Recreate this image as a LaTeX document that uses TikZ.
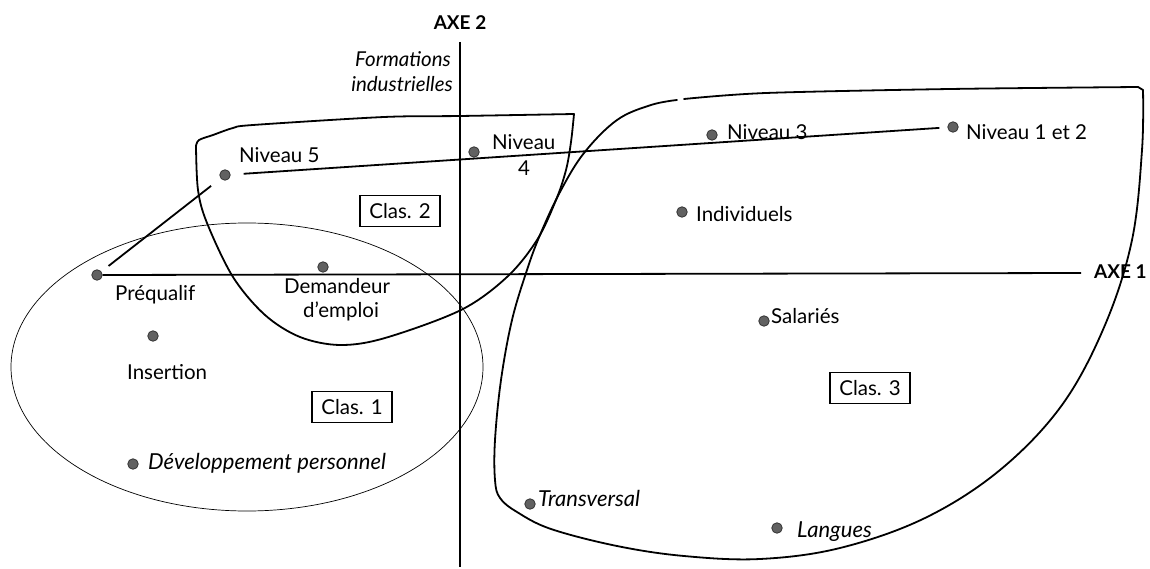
\documentclass[tikz,border=0pt]{standalone}
\usepackage{fontspec}
\setmainfont{Lato}
\begin{document}
\begin{tikzpicture}[x=1pt,y=-1pt,
  lbl/.style={font=\fontsize{20.5}{25}\selectfont, inner sep=0pt},
  ilbl/.style={lbl, font=\fontsize{22}{26}\selectfont\itshape},
  flbl/.style={lbl, font=\fontsize{20.5}{25}\selectfont\itshape},
  axlbl/.style={font=\fontsize{19}{23}\selectfont\bfseries, inner sep=0pt},
  pt/.style={circle, fill=black!62, draw=black!80, line width=0.8pt, minimum size=10.5pt, inner sep=0pt},
  clasbox/.style={draw, line width=1.3pt, font=\fontsize{20.5}{25}\selectfont, minimum width=80pt, minimum height=31pt, inner sep=0pt},
  hull/.style={line width=1.8pt, line join=round, line cap=round},
  link/.style={line width=1.8pt},
  axisline/.style={line width=1.8pt}]
\fill[white] (0,0) rectangle (1150,569);
\useasboundingbox (0,0) rectangle (1150,569);

% class 1: thin ellipse
\draw[line width=0.7pt] (247,367) ellipse [x radius=236pt, y radius=144pt];

% class 2 hull
\draw[hull] plot[smooth, tension=0.5] coordinates {(574,114) (460,116) (384,117) (253,125) (233,128) (213,135) (199,140) (196,146)};
\draw[hull] plot[smooth, tension=0.55] coordinates {(196,146) (198,190) (207,223) (233,277) (265,315) (300,337) (340,345) (385,338) (461,310) (507,277) (537,240) (556,200) (566,170) (571,142) (574,114)};

% class 3 hull (open at the top left)
\draw[hull] plot[smooth, tension=0.5] coordinates {(684,99) (766,93) (950,89) (1138,87)};
\draw[hull] (1138,87) -- (1143,90);
\draw[hull] plot[smooth, tension=0.6] coordinates {(1143,90) (1142,150) (1132,240) (1105,325) (1062,405) (1000,470) (925,518) (840,548) (760,559) (684,556) (617,546) (551,529) (517,512) (500,498) (495,480) (495,440) (501,380) (512,320) (527,270) (540,235) (560,192) (584,153) (617,120) (651,105) (677,100)};

% points
\node[pt] (preq) at (97,275) {};
\node[pt] (niv5) at (225,175) {};
\node[pt] (niv4) at (474,152) {};
\node[pt] (niv3) at (712,135) {};
\node[pt] (niv12) at (953,127) {};
\node[pt] (indiv) at (682,212) {};
\node[pt] (demand) at (323,267) {};
\node[pt] (salar) at (764,321) {};
\node[pt] (insert) at (153,336) {};
\node[pt] (devel) at (133,464) {};
\node[pt] (transv) at (530,504) {};
\node[pt] (lang) at (777,528) {};

% axes
\coordinate (ax1end) at (1081,273);
\coordinate (ax2top) at (460,42);
\coordinate (ax2bot) at (460,567);
\draw[axisline] (preq.east) -- (ax1end);
\draw[axisline] (ax2top) -- (ax2bot);
\node[axlbl, anchor=base west] (axe1) at (1094,278) {AXE 1};
\node[axlbl, anchor=base] (axe2) at (460,30) {AXE 2};
\node[flbl, anchor=base east] (form1) at (451,67) {Formations};
\node[flbl, anchor=base east] (form2) at (453,92) {industrielles};

% links between levels
\draw[link, shorten <=9pt, shorten >=12pt] (preq) -- (niv5);
\draw[link, shorten <=13pt, shorten >=8pt] (niv5) -- (niv12);

% labels
\node[lbl, anchor=base west] (lniv5) at (239,163) {Niveau 5};
\node[lbl, anchor=base west] (lniv4a) at (492,150) {Niveau};
\node[lbl, anchor=base] (lniv4b) at (524,176) {4};
\node[lbl, anchor=base west] (lniv3) at (727,140) {Niveau 3};
\node[lbl, anchor=base west] (lniv12) at (966,140) {Niveau 1 et 2};
\node[lbl, anchor=base west] (lindiv) at (696,222) {Individuels};
\node[lbl, anchor=base west] (lpreq) at (115,300) {Préqualif};
\node[lbl, anchor=base] (ldem1) at (337,293) {Demandeur};
\node[lbl, anchor=base] (ldem2) at (341,317) {d'emploi};
\node[lbl, anchor=base west] (lins) at (127,379) {Insertion};
\node[ilbl, anchor=base west] (ldev) at (148,469) {Développement personnel};
\node[lbl, anchor=base west] (lsal) at (771,323) {Salariés};
\node[ilbl, anchor=base west] (ltrans) at (538,506) {Transversal};
\node[ilbl, anchor=base west] (llang) at (797,537) {Langues};

% class boxes
\node[clasbox] (c1) at (352,407) {Clas. 1};
\node[clasbox] (c2) at (400,211) {Clas. 2};
\node[clasbox] (c3) at (870,388) {Clas. 3};
\end{tikzpicture}
\end{document}
